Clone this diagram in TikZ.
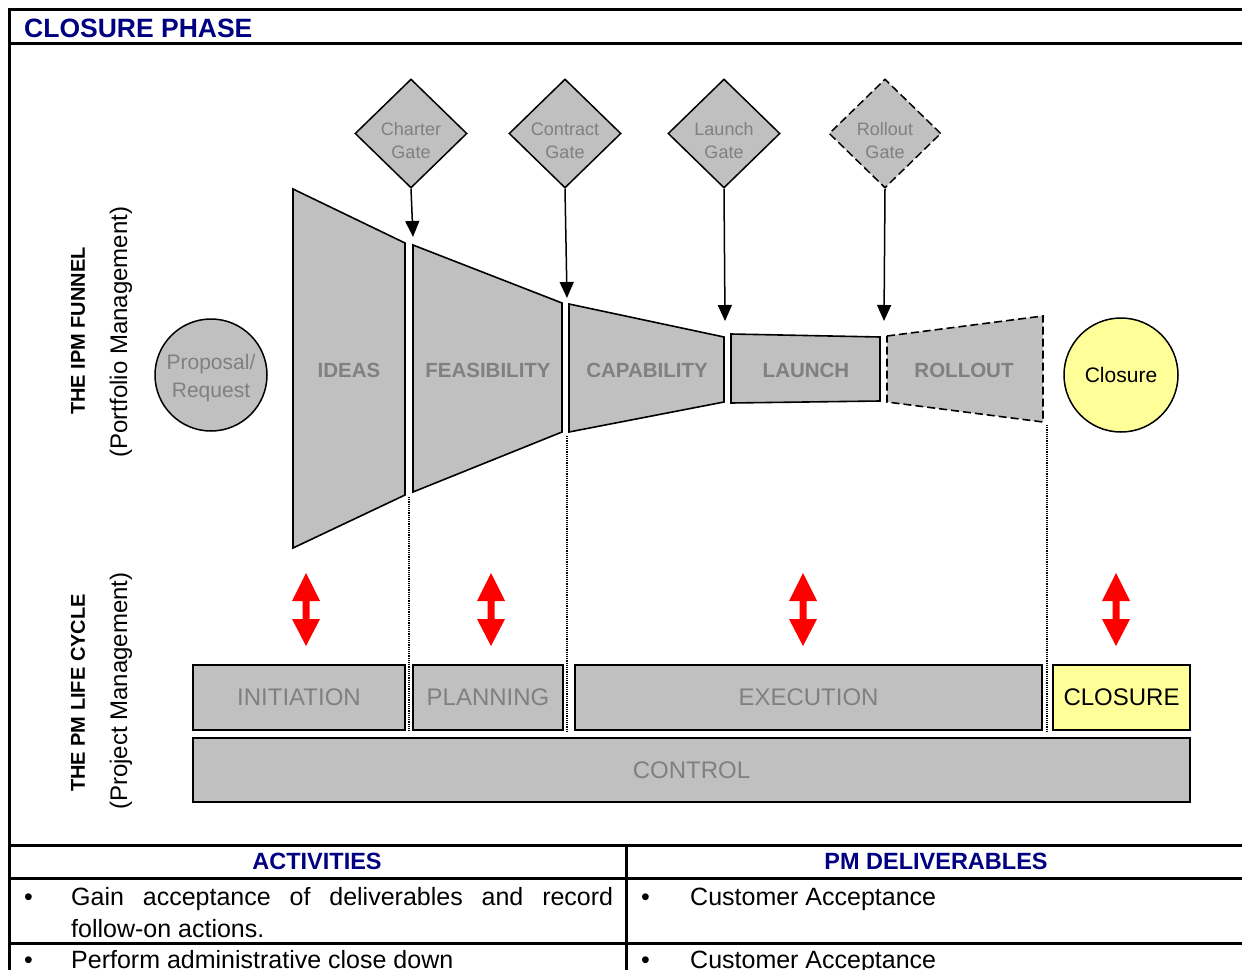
\documentclass[tikz,border=0pt]{standalone}
\usepackage{fontspec}
\setmainfont{Liberation Sans}
\usetikzlibrary{shapes.geometric,arrows.meta}
\definecolor{navyblue}{RGB}{0,0,128}
\definecolor{silverfill}{RGB}{192,192,192}
\definecolor{txtgray}{RGB}{128,128,128}
\definecolor{paleyellow}{RGB}{255,255,153}
\newcommand{\fsz}[2]{\fontsize{#1}{#2}\selectfont}
\begin{document}
\begin{tikzpicture}[x=1pt,y=-1pt,
  frameline/.style={line width=3},
  longdash/.style={dash pattern=on 8pt off 4pt},
  gate/.style={diamond, draw=black, line width=1.5, fill=silverfill, minimum width=112, minimum height=109, inner sep=0},
  gatetext/.style={align=center, inner sep=0, text=txtgray, font=\fsz{18}{23}},
  gatearrow/.style={line width=1.5, -{Triangle[width=14pt,length=16pt]}},
  stage/.style={draw=black, line width=1.6, fill=silverfill},
  stagelabel/.style={text=txtgray, font=\bfseries\fsz{20.5}{24}},
  phase/.style={draw=black, line width=1.6, fill=silverfill, text=txtgray, font=\fsz{24}{28}, inner sep=0},
  sepline/.style={densely dotted, line width=1.2},
  sidehead/.style={rotate=90, font=\bfseries\fsz{20}{22}},
  sidesub/.style={rotate=90, font=\fsz{24}{26}},
  tablehead/.style={text=navyblue, font=\bfseries\fsz{23.5}{26}},
  tabletext/.style={anchor=base west, inner sep=0, font=\fsz{25}{30}},
  redarrow/.pic={\fill[red] (0,-36.5) -- (14,-8.5) -- (3.5,-8.5) -- (3.5,9.5) -- (14,9.5) -- (0,36.5) -- (-14,9.5) -- (-3.5,9.5) -- (-3.5,-8.5) -- (-14,-8.5) -- cycle;}
]
\useasboundingbox (0,0) rectangle (1242,969);
\clip (0,0) rectangle (1242,969);
\fill[white] (0,0) rectangle (1242,969);

% frame and header
\draw[frameline] (1250,9) -- (9,9) -- (9,980);
\draw[frameline] (9,43) -- (1250,43);
\node[anchor=base west, inner sep=0, text=navyblue, font=\bfseries\fsz{26.5}{30}] (title) at (24,37) {CLOSURE PHASE};

% side labels
\node[sidehead] (ipm) at (78,331) {THE IPM FUNNEL};
\node[sidesub] (pfm) at (121,332) {(Portfolio Management)};
\node[sidehead] (pml) at (78,693) {THE PM LIFE CYCLE};
\node[sidesub] (pjm) at (121,691) {(Project Management)};

% circles
\node[circle, draw=black, line width=1.5, fill=silverfill, minimum size=112, inner sep=0] (prop) at (211,375) {};
\node[gatetext, font=\fsz{21}{28}] (proptext) at ([yshift=-3pt]prop.center) {Proposal/\\Request};
\node[circle, draw=black, line width=1.5, fill=paleyellow, minimum size=114, inner sep=0, font=\fsz{21}{26}] (clos) at (1121,375) {Closure};

% funnel stages
\draw[stage] (293,189) -- (405,243) -- (405,495) -- (293,548) -- cycle;
\node[stagelabel] (ideas) at (349,370) {IDEAS};
\draw[stage] (413,245) -- (562,303) -- (562,432) -- (413,492) -- cycle;
\node[stagelabel] (feas) at (488,370) {FEASIBILITY};
\draw[stage] (569,304) -- (724,337) -- (724,402) -- (569,432) -- cycle;
\node[stagelabel] (capa) at (647,370) {CAPABILITY};
\draw[stage] (731,334) -- (880,337) -- (880,401) -- (731,403) -- cycle;
\node[stagelabel] (laun) at (806,370) {LAUNCH};
\draw[stage, longdash] (887,336) -- (1043,316) -- (1043,422) -- (887,402) -- cycle;
\node[stagelabel] (roll) at (964,370) {ROLLOUT};

% gates
\node[gate] (g1) at (411,133.5) {};
\node[gate] (g2) at (565,133.5) {};
\node[gate] (g3) at (724,133.5) {};
\node[gate, longdash] (g4) at (885,133.5) {};
\node[gatetext] (g1t) at ([yshift=-7pt]g1.center) {Charter\\Gate};
\node[gatetext] (g2t) at ([yshift=-7pt]g2.center) {Contract\\Gate};
\node[gatetext] (g3t) at ([yshift=-7pt]g3.center) {Launch\\Gate};
\node[gatetext] (g4t) at ([yshift=-7pt]g4.center) {Rollout\\Gate};
\coordinate (t1) at (413,237);
\coordinate (t2) at (567,298);
\coordinate (t3) at (725,321);
\coordinate (t4) at (884,321);
\draw[gatearrow] (g1.south) -- (t1);
\draw[gatearrow] (g2.south) -- (t2);
\draw[gatearrow] (g3.south) -- (t3);
\draw[gatearrow] (g4.south) -- (t4);

% separators
\draw[sepline] (409,497) -- (409,732);
\draw[sepline] (567,436) -- (567,732);
\draw[sepline] (1047,425) -- (1047,732);

% red arrows
\pic at (306,609.5) {redarrow};
\pic at (491,609.5) {redarrow};
\pic at (803,609.5) {redarrow};
\pic at (1116,609.5) {redarrow};

% life cycle boxes
\node[phase, minimum width=212, minimum height=65] (init) at (299,697.5) {INITIATION};
\node[phase, minimum width=150, minimum height=65] (plan) at (488,697.5) {PLANNING};
\node[phase, minimum width=467, minimum height=65] (exec) at (808.5,697.5) {EXECUTION};
\node[phase, fill=paleyellow, text=black, minimum width=137, minimum height=65] (closure) at (1121.5,697.5) {CLOSURE};
\node[phase, minimum width=997, minimum height=64] (ctrl) at (691.5,770) {CONTROL};

% table
\draw[frameline] (9,845) -- (1250,845);
\draw[frameline] (9,878) -- (1250,878);
\draw[frameline] (9,943) -- (1250,943);
\draw[frameline] (626,845) -- (626,980);
\node[tablehead] (act) at (317,861.5) {ACTIVITIES};
\node[tablehead] (del) at (936,861.5) {PM DELIVERABLES};
\node[tabletext] (b1) at (24,905) {•};
\node[tabletext] (r1a) at (71,905) {\makebox[542pt][s]{Gain acceptance of deliverables and record}};
\node[tabletext] (r1b) at (71,937) {follow-on actions.};
\node[tabletext] (b2) at (24,968) {•};
\node[tabletext] (r2) at (71,968) {Perform administrative close down};
\node[tabletext] (b3) at (641,905) {•};
\node[tabletext] (d1) at (690,905) {Customer Acceptance};
\node[tabletext] (b4) at (641,968) {•};
\node[tabletext] (d2) at (690,968) {Customer Acceptance};
\end{tikzpicture}
\end{document}
